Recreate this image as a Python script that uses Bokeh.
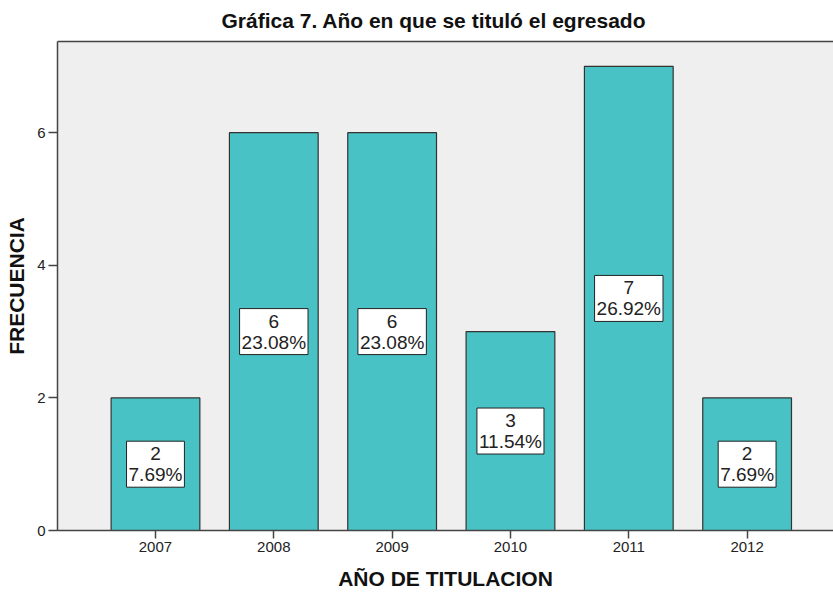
from bokeh.plotting import figure
from bokeh.models import Range1d, FixedTicker, Label, LinearAxis
from bokeh.embed import file_html
from bokeh.resources import INLINE

years = [2007, 2008, 2009, 2010, 2011, 2012]
counts = [2, 6, 6, 3, 7, 2]
percents = ["7.69%", "23.08%", "23.08%", "11.54%", "26.92%", "7.69%"]
y_ticks = [0, 2, 4, 6]

FONT = "Liberation Sans"

p = figure(width=833, height=594, output_backend="svg", toolbar_location=None,
           x_range=Range1d(2006.172, 2012.73), y_range=Range1d(0, 7.375),
           min_border_left=57, min_border_top=41, min_border_bottom=64, min_border_right=0,
           background_fill_color="#efefef", border_fill_color="white")
p.outline_line_color = None
p.grid.visible = False

p.title.text = "Gráfica 7. Año en que se tituló el egresado"
p.title.text_font = FONT
p.title.text_font_size = "21px"
p.title.text_font_style = "bold"
p.title.text_color = "#111111"
p.title.align = "left"
p.title.offset = 164
p.title.vertical_align = "top"
p.title.standoff = 15

p.vbar(x=years, top=counts, width=0.75, bottom=0,
       fill_color="#48c2c5", line_color="#333333", line_width=1.2)

for yr, c, pc in zip(years, counts, percents):
    p.add_layout(Label(x=yr, y=c / 2, text=f"{c}\n{pc}",
                       text_align="center", text_baseline="middle",
                       text_font=FONT, text_font_size="19px", text_color="#222222",
                       text_line_height=1.0,
                       background_fill_color="white", border_line_color="#222222",
                       border_line_width=1, padding=2))

# axes
xa = p.xaxis[0]
xa.ticker = FixedTicker(ticks=years)
xa.axis_label = "AÑO DE TITULACION"
ya = p.yaxis[0]
ya.ticker = FixedTicker(ticks=y_ticks)
ya.axis_label = "FRECUENCIA"
for ax in (xa, ya):
    ax.axis_line_color = "#444444"
    ax.axis_line_width = 1.5
    ax.major_tick_line_color = "#444444"
    ax.major_tick_line_width = 1.5
    ax.major_tick_in = 0
    ax.minor_tick_line_color = None
    ax.major_label_text_font = FONT
    ax.major_label_text_font_size = "15px"
    ax.major_label_text_color = "#222222"
    ax.axis_label_text_font = FONT
    ax.axis_label_text_font_size = "21px"
    ax.axis_label_text_font_style = "bold"
    ax.axis_label_text_color = "#111111"
xa.major_tick_out = 8
ya.major_tick_out = 9
xa.major_label_standoff = 3
xa.axis_label_standoff = 12
ya.major_label_standoff = 3
ya.axis_label_standoff = 6
ya.major_label_orientation = "horizontal"
xa.formatter.use_scientific = False

top = LinearAxis(ticker=FixedTicker(ticks=[]), axis_line_color="#444444", axis_line_width=1.5,
                 major_tick_line_color=None, minor_tick_line_color=None,
                 major_label_text_font_size="0px")
p.add_layout(top, "above")

open("out.html", "w").write(file_html(p, INLINE))
